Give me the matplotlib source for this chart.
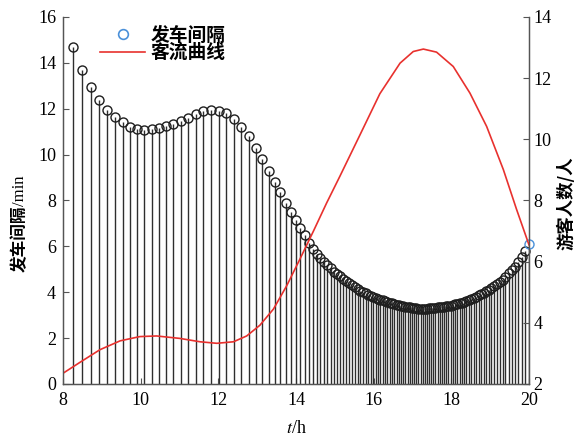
import matplotlib.pyplot as plt
import matplotlib.lines as mlines
import numpy as np

# headway between consecutive buses (min), one value per departure
interval = [14.7, 13.7, 12.95, 12.4, 11.95, 11.65, 11.4, 11.22, 11.1, 11.07,
            11.1, 11.18, 11.25, 11.35, 11.48, 11.61, 11.75, 11.88, 11.94, 11.92,
            11.8, 11.55, 11.22, 10.8, 10.3, 9.8, 9.3, 8.82, 8.35, 7.9,
            7.5, 7.15, 6.8, 6.5, 6.16, 5.90, 5.68, 5.50, 5.32, 5.18,
            5.04, 4.88, 4.81, 4.69, 4.59, 4.49, 4.40, 4.31, 4.22, 4.14,
            4.07, 4.01, 3.95, 3.90, 3.84, 3.79, 3.75, 3.71, 3.67, 3.64,
            3.60, 3.57, 3.54, 3.51, 3.48, 3.46, 3.43, 3.41, 3.39, 3.37,
            3.35, 3.34, 3.32, 3.31, 3.30, 3.29, 3.28, 3.28, 3.28, 3.29,
            3.30, 3.31, 3.32, 3.33, 3.34, 3.35, 3.36, 3.37, 3.38, 3.40,
            3.42, 3.44, 3.47, 3.49, 3.52, 3.55, 3.58, 3.62, 3.66, 3.71,
            3.76, 3.81, 3.87, 3.92, 3.98, 4.04, 4.11, 4.18, 4.26, 4.35,
            4.44, 4.55, 4.68, 4.82, 4.97, 5.12, 5.32, 5.53, 5.80, 6.10]

# passenger flow curve (right axis)
flow_t = [8.0, 8.44, 8.95, 9.47, 9.98, 10.41, 11.01, 11.53, 11.96, 12.39,
          12.73, 13.07, 13.42, 13.76, 14.1, 14.45, 14.79, 15.13, 15.65, 16.16,
          16.68, 17.02, 17.28, 17.62, 18.05, 18.48, 18.91, 19.34, 19.68, 20.0]
flow_n = [2.35, 2.71, 3.12, 3.41, 3.55, 3.57, 3.49, 3.38, 3.33, 3.38,
          3.57, 3.92, 4.45, 5.21, 6.08, 7.0, 7.92, 8.79, 10.15, 11.49,
          12.49, 12.87, 12.95, 12.85, 12.38, 11.51, 10.42, 9.01, 7.71, 6.55]

start = 8
interval = np.array(interval)
# each bus leaves one headway after the previous one
depart = start + (interval[0] + np.concatenate([[0], np.cumsum(interval[:-1])])) / 60

plt.rcParams['font.family'] = ['Liberation Serif', 'Noto Sans CJK SC']
plt.rcParams['mathtext.fontset'] = 'stix'
cjk = ['Noto Sans CJK SC']
axcol = '#555555'
red = '#e8312e'
blue = '#4a90d9'

fig = plt.figure(figsize=(5.79, 4.36), dpi=100)
ax = fig.add_axes([0.1088, 0.1193, 0.8048, 0.8418])
ax2 = ax.twinx()

ax.vlines(depart, 0, interval, colors='#2e2e2e', linewidth=1.0)
ax.plot(depart[:-1], interval[:-1], 'o', mfc='none', mec='#1e1e1e', ms=6.5, mew=1.0,
        clip_on=False)
ax.plot(depart[-1:], interval[-1:], 'o', mfc='none', mec=blue, ms=6.5, mew=1.0,
        clip_on=False, zorder=5)
ax2.plot(flow_t, flow_n, color=red, linewidth=1.2)

ax.set_xlim(8, 20)
ax.set_ylim(0, 16)
ax2.set_ylim(2, 14)
ax.set_xticks(range(8, 21, 2))
ax.set_yticks(range(0, 17, 2))
ax2.set_yticks(range(2, 15, 2))

for a in (ax, ax2):
    a.spines['top'].set_visible(False)
    for s in ('left', 'right', 'bottom'):
        a.spines[s].set_color(axcol)
        a.spines[s].set_linewidth(0.9)
ax.tick_params(axis='both', direction='in', length=4, width=0.8, color=axcol, labelsize=13)
ax.tick_params(axis='y', pad=5)
ax.tick_params(axis='x', pad=6)
ax2.tick_params(axis='y', direction='in', length=4, width=0.8, color=axcol, labelsize=13, pad=3)

ax.set_xlabel('$t$/h', fontsize=13, labelpad=8)

# y labels: Chinese part in bold sans, unit in serif
fig.canvas.draw()
t1 = fig.text(0.034, (436 - 272) / 436, '发车间隔', rotation=90, family=cjk,
              weight='bold', fontsize=12, ha='center', va='bottom')
fig.canvas.draw()
bb = t1.get_window_extent()
fig.text(0.034, bb.y1 / fig.bbox.height, '/min', rotation=90, fontsize=12,
         ha='center', va='bottom')
fig.text(0.978, (436 - 250) / 436, '游客人数/人', rotation=90, family=cjk,
         weight='bold', fontsize=12.5, ha='center', va='bottom')

handles = [mlines.Line2D([], [], marker='o', ls='none', mfc='none', mec=blue, ms=7, mew=1.2),
           mlines.Line2D([], [], color=red, linewidth=1.2)]
ax2.legend(handles, ['发车间隔', '客流曲线'], loc='upper left',
           bbox_to_anchor=(100 / 579, (436 - 26) / 436), bbox_transform=fig.transFigure,
           frameon=False, prop={'family': cjk, 'weight': 'bold', 'size': 13.5},
           handlelength=2.4, handletextpad=0.3, labelspacing=-0.1,
           borderpad=0, borderaxespad=0)

fig.savefig('out.png', dpi=100)
